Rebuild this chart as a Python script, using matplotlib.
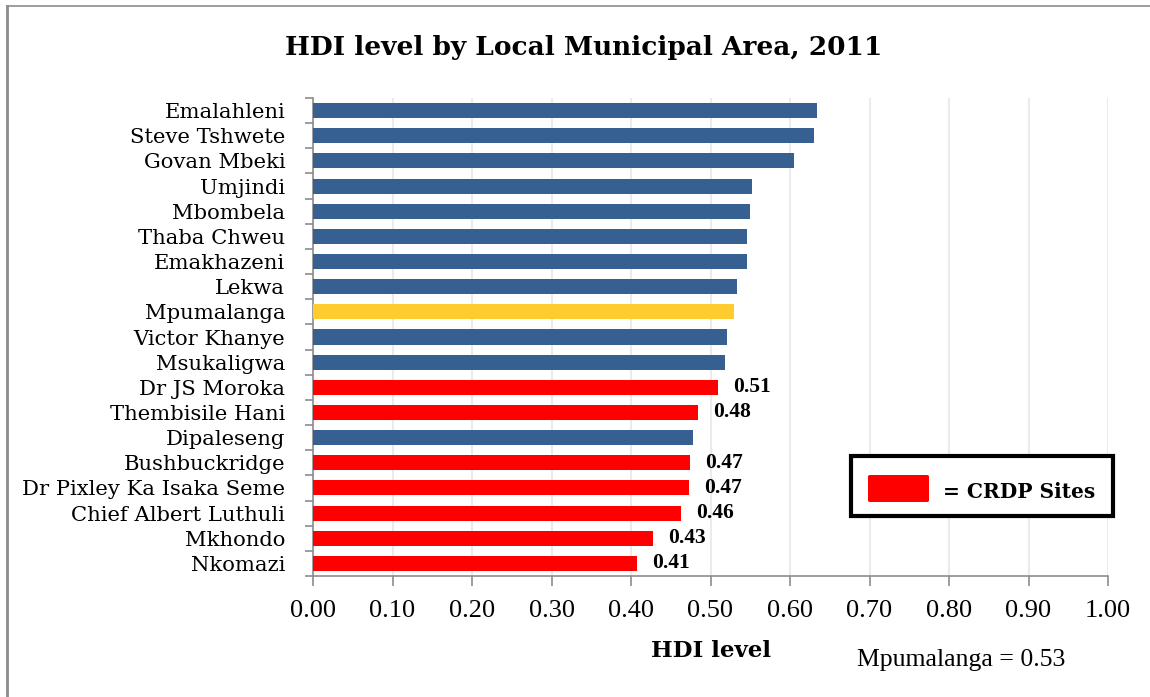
import matplotlib
matplotlib.use("Agg")
import matplotlib.pyplot as plt
from matplotlib.patches import Rectangle, FancyBboxPatch
from matplotlib.lines import Line2D

areas = ["Emalahleni", "Steve Tshwete", "Govan Mbeki", "Umjindi", "Mbombela",
         "Thaba Chweu", "Emakhazeni", "Lekwa", "Mpumalanga", "Victor Khanye",
         "Msukaligwa", "Dr JS Moroka", "Thembisile Hani", "Dipaleseng",
         "Bushbuckridge", "Dr Pixley Ka Isaka Seme", "Chief Albert Luthuli",
         "Mkhondo", "Nkomazi"]
hdi = [0.634, 0.630, 0.605, 0.552, 0.550, 0.546, 0.546, 0.533, 0.530, 0.521,
       0.518, 0.509, 0.484, 0.478, 0.474, 0.473, 0.463, 0.428, 0.408]
crdp_sites = ["Dr JS Moroka", "Thembisile Hani", "Bushbuckridge",
              "Dr Pixley Ka Isaka Seme", "Chief Albert Luthuli", "Mkhondo", "Nkomazi"]
province = "Mpumalanga"
province_hdi = 0.53
x_ticks = [0.0, 0.1, 0.2, 0.3, 0.4, 0.5, 0.6, 0.7, 0.8, 0.9, 1.0]

BLUE = "#366092"
YELLOW = "#FFCC2F"
RED = "#FF0000"
GREY = "#8C8C8C"
WORD_FONT = "DejaVu Serif"
NUM_FONT = "Liberation Serif"

colors = []
for a in areas:
    if a == province:
        colors.append(YELLOW)
    elif a in crdp_sites:
        colors.append(RED)
    else:
        colors.append(BLUE)

fig = plt.figure(figsize=(11.5, 6.97), dpi=100)
ax = fig.add_axes([313 / 1150, 1 - 576 / 697, 795 / 1150, 478 / 697])

ypos = list(range(len(areas)))
ax.barh(ypos, hdi, height=0.6, color=colors, zorder=3)
ax.set_ylim(len(areas) - 0.5, -0.5)
ax.set_xlim(0, 1)

for y, a, v in zip(ypos, areas, hdi):
    if a in crdp_sites:
        ax.text(v + 0.019, y, f"{v:.2f}", va="center", ha="left",
                fontfamily=NUM_FONT, fontweight="bold", fontsize=15.5, zorder=4)

ax.set_xticks(x_ticks)
ax.set_xticklabels([f"{t:.2f}" for t in x_ticks], fontfamily=NUM_FONT, fontsize=19)
ax.set_yticks(ypos)
ax.set_yticklabels(areas, fontfamily=WORD_FONT, fontsize=15.2)
ax.set_yticks([i + 0.5 for i in range(-1, len(areas))], minor=True)
ax.tick_params(axis="y", which="major", length=0, pad=20)
ax.tick_params(axis="y", which="minor", length=6, color=GREY, width=1.2)
ax.tick_params(axis="x", length=7, color=GREY, width=1.2, pad=10)

ax.grid(axis="x", color="#EBEBEB", linewidth=1.5, zorder=0)
for s in ["top", "right"]:
    ax.spines[s].set_visible(False)
for s in ["left", "bottom"]:
    ax.spines[s].set_color(GREY)
    ax.spines[s].set_linewidth(1.2)

fig.text(584 / 1150, 1 - 47 / 697, "HDI level by Local Municipal Area, 2011",
         ha="center", va="center", fontfamily=WORD_FONT, fontweight="bold", fontsize=19)
fig.text(711 / 1150, 1 - 651 / 697, "HDI level", ha="center", va="center",
         fontfamily=WORD_FONT, fontweight="bold", fontsize=16.5)
fig.text(961 / 1150, 1 - 660 / 697, f"Mpumalanga = {province_hdi:.2f}", ha="center",
         va="center", fontfamily=NUM_FONT, fontsize=18.5)

# legend box
fig.patches.append(Rectangle((851 / 1150, 1 - 516 / 697), 262 / 1150, 60 / 697,
                             transform=fig.transFigure, facecolor="white",
                             edgecolor="black", linewidth=3, zorder=5))
fig.patches.append(FancyBboxPatch((868 / 1150, 1 - 502 / 697), 61 / 1150, 27 / 697,
                                  boxstyle="round,pad=0,rounding_size=0.002",
                                  transform=fig.transFigure, facecolor=RED,
                                  edgecolor="none", zorder=6))
fig.text(1019 / 1150, 1 - 492 / 697, "= CRDP Sites", ha="center", va="center",
         fontfamily=WORD_FONT, fontweight="bold", fontsize=14.5, zorder=7)

# outer frame (left and top edges)
fig.add_artist(Line2D([7 / 1150, 7 / 1150], [0, 1 - 6 / 697], transform=fig.transFigure,
                      color=GREY, linewidth=2))
fig.add_artist(Line2D([7 / 1150, 1], [1 - 6 / 697, 1 - 6 / 697], transform=fig.transFigure,
                      color=GREY, linewidth=1.2))

fig.savefig("out.png", dpi=100)
